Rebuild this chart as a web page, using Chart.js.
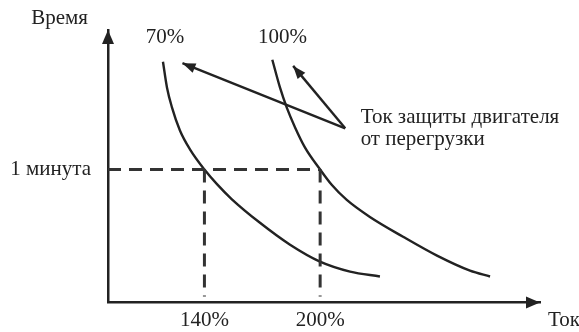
<!DOCTYPE html>
<html>
<head>
<meta charset="utf-8">
<script src="https://cdn.jsdelivr.net/npm/chart.js@4.4.1/dist/chart.umd.min.js"></script>
<style>
  body { margin: 0; background: #fff; }
</style>
</head>
<body>
<canvas id="chart" width="579" height="332"></canvas>
<script>
// ось тока (%) и времени (мин)
const currentTicks = [140, 200];
const currentTickLabels = ['140%', '200%'];
const timeTicks = [1];
const timeTickLabels = ['1 минута'];

// кривые защиты
const curve70X = [118.5, 120.6, 123.2, 127.3, 132.5, 140, 146.5, 154.1, 168.8, 184.4, 199.9, 215.5, 231];
const curve70Y = [1.811, 1.616, 1.466, 1.294, 1.152, 1.0, 0.890, 0.778, 0.599, 0.434, 0.307, 0.232, 0.195];
const curve100X = [175.2, 179.2, 182.7, 187.0, 192.1, 200, 206.1, 213.8, 225.8, 243.0, 260.6, 277.7, 288.1];
const curve100Y = [1.826, 1.616, 1.466, 1.317, 1.167, 1.0, 0.883, 0.771, 0.643, 0.494, 0.352, 0.239, 0.195];

// пунктирные линии к 1 минуте
const guideHX = [90, 200];
const guideHY = [1, 1];
const guide140X = [140, 140];
const guide200X = [200, 200];
const guideVY = [1, 0.045];

// стрелки-указатели от подписи
const pointerFrom = [213, 1.31];
const pointerTo70 = [128.6, 1.80];
const pointerTo100 = [186, 1.78];

const curveLabels = ['70%', '100%'];
const curveLabelX = [119.5, 180.5];
const curveLabelY = [1.99, 1.99];
const noteLines = ['Ток защиты двигателя', 'от перегрузки'];
const noteX = 221;
const noteY = [1.39, 1.225];

const FONT = '"Liberation Serif", "Times New Roman", serif';
const FONT_SIZE = 21;
const INK = '#222';

function pts(xs, ys) {
  return xs.map((x, i) => ({ x: x, y: ys[i] }));
}

function line(xs, ys, extra) {
  return Object.assign({
    data: pts(xs, ys),
    showLine: true,
    borderColor: INK,
    borderWidth: 2.4,
    pointRadius: 0,
    fill: false
  }, extra || {});
}

const dashed = { borderColor: '#333', borderWidth: 3, borderDash: [13, 8] };

function arrowHead(ctx, x1, y1, x2, y2, len, half) {
  const a = Math.atan2(y2 - y1, x2 - x1);
  ctx.beginPath();
  ctx.moveTo(x2, y2);
  ctx.lineTo(x2 - len * Math.cos(a) + half * Math.sin(a), y2 - len * Math.sin(a) - half * Math.cos(a));
  ctx.lineTo(x2 - len * Math.cos(a) - half * Math.sin(a), y2 - len * Math.sin(a) + half * Math.cos(a));
  ctx.closePath();
  ctx.fill();
}

const decor = {
  id: 'decor',
  afterDraw(chart) {
    const ctx = chart.ctx;
    const xs = chart.scales.x, ys = chart.scales.y;
    const area = chart.chartArea;
    ctx.save();
    ctx.fillStyle = INK;

    // стрелки осей
    arrowHead(ctx, area.left, area.bottom, area.left, area.top, 14, 6);
    arrowHead(ctx, area.left, area.bottom, area.right, area.bottom, 14, 6);

    // стрелки указателей
    const fx = xs.getPixelForValue(pointerFrom[0]), fy = ys.getPixelForValue(pointerFrom[1]);
    [pointerTo70, pointerTo100].forEach(p => {
      arrowHead(ctx, fx, fy, xs.getPixelForValue(p[0]), ys.getPixelForValue(p[1]), 13, 5);
    });

    ctx.font = FONT_SIZE + 'px ' + FONT;
    ctx.textBaseline = 'middle';

    // подписи осей
    ctx.textAlign = 'right';
    ctx.fillText('Время', area.left - 20, area.top - 12);
    ctx.textAlign = 'left';
    ctx.fillText('Ток', area.right + 8, area.bottom + 18);

    // подписи кривых
    ctx.textAlign = 'center';
    curveLabels.forEach((t, i) => {
      ctx.fillText(t, xs.getPixelForValue(curveLabelX[i]), ys.getPixelForValue(curveLabelY[i]));
    });

    ctx.textAlign = 'left';
    noteLines.forEach((t, i) => {
      ctx.fillText(t, xs.getPixelForValue(noteX), ys.getPixelForValue(noteY[i]));
    });
    ctx.restore();
  }
};

new Chart(document.getElementById('chart'), {
  type: 'scatter',
  data: {
    datasets: [
      line(guideHX, guideHY, dashed),
      line(guide140X, guideVY, dashed),
      line(guide200X, guideVY, dashed),
      line(curve70X, curve70Y, { cubicInterpolationMode: 'monotone' }),
      line(curve100X, curve100Y, { cubicInterpolationMode: 'monotone' }),
      line([pointerFrom[0], pointerTo70[0]], [pointerFrom[1], pointerTo70[1]]),
      line([pointerFrom[0], pointerTo100[0]], [pointerFrom[1], pointerTo100[1]])
    ]
  },
  options: {
    responsive: false,
    animation: false,
    layout: { padding: { top: 30, right: 39, left: 0, bottom: 0 } },
    plugins: {
      legend: { display: false },
      tooltip: { enabled: false }
    },
    scales: {
      x: {
        type: 'linear',
        min: 90,
        max: 314,
        afterFit: s => { s.height = 28; },
        afterBuildTicks: s => { s.ticks = currentTicks.map(v => ({ value: v })); },
        grid: { display: false, drawTicks: false },
        border: { display: true, color: INK, width: 2.5 },
        ticks: {
          autoSkip: false,
          maxRotation: 0,
          padding: 5,
          color: INK,
          font: { family: FONT, size: FONT_SIZE },
          callback: v => currentTickLabels[currentTicks.indexOf(v)]
        }
      },
      y: {
        type: 'linear',
        min: 0,
        max: 2.05,
        afterFit: s => { s.width = 108; },
        afterBuildTicks: s => { s.ticks = timeTicks.map(v => ({ value: v })); },
        grid: { display: false, drawTicks: false },
        border: { display: true, color: INK, width: 2.5 },
        ticks: {
          autoSkip: false,
          padding: 17,
          color: INK,
          font: { family: FONT, size: FONT_SIZE },
          callback: v => timeTickLabels[timeTicks.indexOf(v)]
        }
      }
    }
  },
  plugins: [decor]
});
</script>
</body>
</html>
